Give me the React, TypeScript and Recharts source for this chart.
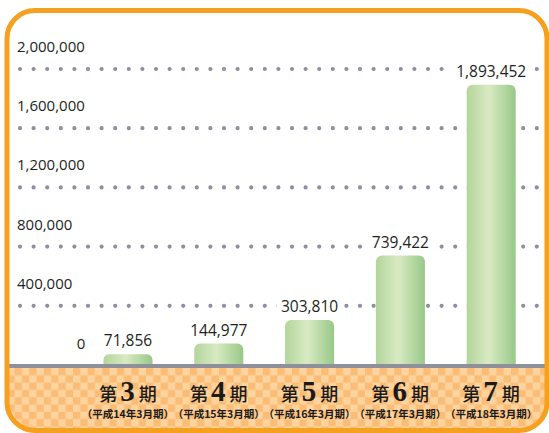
import React from "react";
import {
  BarChart,
  Bar,
  XAxis,
  YAxis,
  CartesianGrid,
  LabelList,
} from "recharts";

const periods = ["3", "4", "5", "6", "7"];
const subLabels = [
  "平成14年3月期",
  "平成15年3月期",
  "平成16年3月期",
  "平成17年3月期",
  "平成18年3月期",
];
const amounts = [71856, 144977, 303810, 739422, 1893452];
const yTicks = [0, 400000, 800000, 1200000, 1600000, 2000000];

const data = periods.map((p, i) => ({
  period: p,
  sub: subLabels[i],
  value: amounts[i],
}));

const W = 549;
const H = 433;
const numFont = "'Open Sans', 'DejaVu Sans', sans-serif";
const jpFont = "'Noto Sans CJK JP', sans-serif";

const fmt = (v: number) => v.toLocaleString("en-US");

function YTick(props: any) {
  const { y, payload } = props;
  if (payload.value === 0) {
    return (
      <text x={81} y={y - 16} textAnchor="middle" fontSize={15} fill="#231f20" fontFamily={numFont}>
        0
      </text>
    );
  }
  return (
    <text x={17} y={y - 17} textAnchor="start" fontSize={15} fill="#231f20" fontFamily={numFont}>
      {fmt(payload.value)}
    </text>
  );
}

function XTick(props: any) {
  const { x, index } = props;
  const d = data[index];
  return (
    <g>
      <text x={x} y={401} textAnchor="middle" fill="#1a1a1a">
        <tspan fontFamily={jpFont} fontSize={18} fontWeight={500}>第</tspan>
        <tspan fontFamily="'Liberation Serif', serif" fontSize={29} fontWeight={700} dx={3}>
          {d.period}
        </tspan>
        <tspan fontFamily={jpFont} fontSize={18} fontWeight={500} dx={4}>期</tspan>
      </text>
      <text x={x} y={418} textAnchor="middle" fontFamily={jpFont} fontSize={10.5} fontWeight={700} fill="#1a1a1a">
        {"（" + d.sub + "）"}
      </text>
    </g>
  );
}

function ValueLabel(props: any) {
  const { x, y, width, value } = props;
  const cx = x + width / 2;
  const txt = fmt(value);
  const tw = txt.length * 8.6;
  return (
    <g>
      <rect x={cx - tw / 2 - 3} y={y - 22} width={tw + 6} height={18} fill="#fff" />
      <text x={cx} y={y - 8} textAnchor="middle" fontSize={15.5} fill="#231f20" fontFamily={numFont}>
        {txt}
      </text>
    </g>
  );
}

export default function App() {
  const frame = "M 7 38.5 A 28 28 0 0 1 35 10.5 L 519 10.5 A 28 28 0 0 1 547 38.5 L 547 402.5 A 28 28 0 0 1 519 430.5 L 35 430.5 A 28 28 0 0 1 7 402.5 Z";
  return (
    <div style={{ position: "absolute", left: 0, top: 0, width: W, height: H, background: "#fff" }}>
      <svg width={W} height={H} style={{ position: "absolute", left: 0, top: 0 }}>
        <defs>
          <pattern id="checker" x={0} y={368} width={14.6} height={14.6} patternUnits="userSpaceOnUse">
            <rect width={14.6} height={14.6} fill="#fdd49e" />
            <rect width={7.3} height={7.3} fill="#fbbd76" />
            <rect x={7.3} y={7.3} width={7.3} height={7.3} fill="#fbbd76" />
          </pattern>
          <clipPath id="frameClip">
            <path d={frame} />
          </clipPath>
        </defs>
        <path d={frame} fill="#fff" />
        <rect x={0} y={368} width={W} height={H - 368} fill="url(#checker)" clipPath="url(#frameClip)" />
      </svg>
      <div style={{ position: "absolute", left: 0, top: 0 }}>
        <BarChart
          width={W}
          height={H}
          data={data}
          margin={{ top: 69, right: 2, left: 0, bottom: 38 }}
        >
          <defs>
            <linearGradient id="barGrad" x1="0" y1="0" x2="1" y2="0">
              <stop offset="0%" stopColor="#b3d59b" />
              <stop offset="45%" stopColor="#d9eac3" />
              <stop offset="100%" stopColor="#98c887" />
            </linearGradient>
          </defs>
          <CartesianGrid
            vertical={false}
            horizontalValues={[400000, 800000, 1200000, 1600000, 2000000]}
            stroke="#8c90a0"
            strokeWidth={4.2}
            strokeLinecap="round"
            strokeDasharray="0 13.6"
          />
          <XAxis
            dataKey="period"
            height={30}
            axisLine={false}
            tickLine={false}
            padding={{ left: 62.5, right: 10.5 }}
            tick={<XTick />}
            interval={0}
          />
          <YAxis
            width={20}
            domain={[0, 2000000]}
            ticks={yTicks}
            axisLine={false}
            tickLine={false}
            tick={<YTick />}
            interval={0}
          />
          <Bar
            dataKey="value"
            fill="url(#barGrad)"
            barSize={49}
            radius={[6, 6, 0, 0]}
            isAnimationActive={false}
          >
            <LabelList dataKey="value" content={<ValueLabel />} />
          </Bar>
        </BarChart>
      </div>
      <svg width={W} height={H} style={{ position: "absolute", left: 0, top: 0, pointerEvents: "none" }}>
        <rect x={9} y={364} width={538} height={4} fill="#8e919c" />
        <path d={frame} fill="none" stroke="#f6a020" strokeWidth={5} />
      </svg>
    </div>
  );
}
